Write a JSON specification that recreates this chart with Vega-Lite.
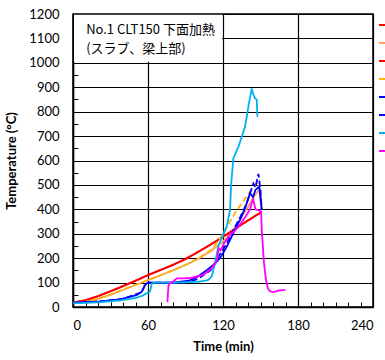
{
  "$schema": "https://vega.github.io/schema/vega-lite/v6.json",
  "width": 300,
  "height": 293,
  "autosize": {"type": "none"},
  "padding": {"left": 73, "top": 14, "right": 12, "bottom": 53},
  "background": "white",
  "config": {
    "view": {"stroke": "black", "strokeWidth": 1.5},
    "font": "Lato",
    "axis": {"labelFont": "Lato", "labelFontSize": 13, "labelColor": "black", "titleFont": "Lato", "titleFontSize": 13, "titleFontWeight": "bold", "titleColor": "black", "domainColor": "black", "domainWidth": 1.5, "tickColor": "black", "labelOverlap": false}
  },
  "datasets": {
    "series": [
      {"s": "1", "t": 0, "T": 18}, {"s": "1", "t": 10, "T": 28}, {"s": "1", "t": 20, "T": 45}, {"s": "1", "t": 30, "T": 65}, {"s": "1", "t": 40, "T": 86}, {"s": "1", "t": 50, "T": 108}, {"s": "1", "t": 60, "T": 131}, {"s": "1", "t": 70, "T": 152}, {"s": "1", "t": 80, "T": 173}, {"s": "1", "t": 90, "T": 197}, {"s": "1", "t": 100, "T": 226}, {"s": "1", "t": 110, "T": 256}, {"s": "1", "t": 120, "T": 288}, {"s": "1", "t": 130, "T": 322}, {"s": "1", "t": 140, "T": 355}, {"s": "1", "t": 151, "T": 390},
      {"s": "2", "t": 0, "T": 18}, {"s": "2", "t": 10, "T": 22}, {"s": "2", "t": 20, "T": 33}, {"s": "2", "t": 30, "T": 50}, {"s": "2", "t": 40, "T": 70}, {"s": "2", "t": 50, "T": 90}, {"s": "2", "t": 60, "T": 110}, {"s": "2", "t": 70, "T": 130}, {"s": "2", "t": 80, "T": 150}, {"s": "2", "t": 90, "T": 172}, {"s": "2", "t": 100, "T": 197}, {"s": "2", "t": 110, "T": 228}, {"s": "2", "t": 120, "T": 268}, {"s": "2", "t": 125, "T": 295}, {"s": "2", "t": 130, "T": 330}, {"s": "2", "t": 135, "T": 370}, {"s": "2", "t": 140, "T": 410}, {"s": "2", "t": 145, "T": 455}, {"s": "2", "t": 149, "T": 480}, {"s": "2", "t": 151, "T": 400},
      {"s": "3", "t": 0, "T": 18}, {"s": "3", "t": 10, "T": 27}, {"s": "3", "t": 20, "T": 44}, {"s": "3", "t": 30, "T": 64}, {"s": "3", "t": 40, "T": 85}, {"s": "3", "t": 50, "T": 107}, {"s": "3", "t": 60, "T": 130}, {"s": "3", "t": 70, "T": 151}, {"s": "3", "t": 80, "T": 172}, {"s": "3", "t": 90, "T": 196}, {"s": "3", "t": 100, "T": 225}, {"s": "3", "t": 110, "T": 255}, {"s": "3", "t": 120, "T": 287}, {"s": "3", "t": 130, "T": 321}, {"s": "3", "t": 140, "T": 354}, {"s": "3", "t": 151, "T": 389},
      {"s": "4", "t": 0, "T": 18}, {"s": "4", "t": 10, "T": 22}, {"s": "4", "t": 20, "T": 34}, {"s": "4", "t": 30, "T": 51}, {"s": "4", "t": 40, "T": 71}, {"s": "4", "t": 50, "T": 91}, {"s": "4", "t": 60, "T": 110}, {"s": "4", "t": 70, "T": 130}, {"s": "4", "t": 80, "T": 150}, {"s": "4", "t": 90, "T": 172}, {"s": "4", "t": 100, "T": 198}, {"s": "4", "t": 110, "T": 232}, {"s": "4", "t": 115, "T": 262}, {"s": "4", "t": 120, "T": 300}, {"s": "4", "t": 125, "T": 345}, {"s": "4", "t": 130, "T": 388}, {"s": "4", "t": 135, "T": 425}, {"s": "4", "t": 140, "T": 460}, {"s": "4", "t": 144, "T": 490}, {"s": "4", "t": 148, "T": 510}, {"s": "4", "t": 150, "T": 470}, {"s": "4", "t": 151, "T": 410},
      {"s": "5", "t": 0, "T": 18}, {"s": "5", "t": 20, "T": 22}, {"s": "5", "t": 37, "T": 31}, {"s": "5", "t": 51, "T": 49}, {"s": "5", "t": 55, "T": 63}, {"s": "5", "t": 57.6, "T": 90}, {"s": "5", "t": 60, "T": 100}, {"s": "5", "t": 80, "T": 100}, {"s": "5", "t": 93, "T": 108}, {"s": "5", "t": 100, "T": 125}, {"s": "5", "t": 107, "T": 151}, {"s": "5", "t": 113, "T": 175}, {"s": "5", "t": 117.6, "T": 200}, {"s": "5", "t": 123, "T": 247}, {"s": "5", "t": 128, "T": 300}, {"s": "5", "t": 133.6, "T": 356}, {"s": "5", "t": 138, "T": 410}, {"s": "5", "t": 141.6, "T": 466}, {"s": "5", "t": 144, "T": 450}, {"s": "5", "t": 146, "T": 480}, {"s": "5", "t": 149, "T": 493}, {"s": "5", "t": 151, "T": 397},
      {"s": "6", "t": 0, "T": 18}, {"s": "6", "t": 20, "T": 22}, {"s": "6", "t": 40, "T": 33}, {"s": "6", "t": 55, "T": 60}, {"s": "6", "t": 58, "T": 95}, {"s": "6", "t": 60, "T": 100}, {"s": "6", "t": 90, "T": 100}, {"s": "6", "t": 100, "T": 115}, {"s": "6", "t": 110, "T": 150}, {"s": "6", "t": 118, "T": 220}, {"s": "6", "t": 123, "T": 260}, {"s": "6", "t": 128.3, "T": 315}, {"s": "6", "t": 134, "T": 370}, {"s": "6", "t": 139, "T": 425}, {"s": "6", "t": 142, "T": 470}, {"s": "6", "t": 144.3, "T": 506}, {"s": "6", "t": 146, "T": 490}, {"s": "6", "t": 148.3, "T": 545}, {"s": "6", "t": 150, "T": 480}, {"s": "6", "t": 151, "T": 397},
      {"s": "7", "t": 0, "T": 15}, {"s": "7", "t": 20, "T": 19}, {"s": "7", "t": 37.6, "T": 27}, {"s": "7", "t": 50, "T": 37}, {"s": "7", "t": 55, "T": 45}, {"s": "7", "t": 61.6, "T": 63}, {"s": "7", "t": 63, "T": 95}, {"s": "7", "t": 65, "T": 100}, {"s": "7", "t": 80, "T": 100}, {"s": "7", "t": 100, "T": 103}, {"s": "7", "t": 108, "T": 110}, {"s": "7", "t": 111, "T": 125}, {"s": "7", "t": 113.6, "T": 179}, {"s": "7", "t": 116.3, "T": 250}, {"s": "7", "t": 120, "T": 295}, {"s": "7", "t": 123, "T": 329}, {"s": "7", "t": 125.6, "T": 397}, {"s": "7", "t": 126.5, "T": 500}, {"s": "7", "t": 128.3, "T": 609}, {"s": "7", "t": 132.3, "T": 656}, {"s": "7", "t": 135, "T": 697}, {"s": "7", "t": 137.6, "T": 738}, {"s": "7", "t": 140.3, "T": 820}, {"s": "7", "t": 143, "T": 895}, {"s": "7", "t": 144, "T": 875}, {"s": "7", "t": 145.6, "T": 854}, {"s": "7", "t": 147, "T": 850}, {"s": "7", "t": 147.5, "T": 779},
      {"s": "8", "t": 75.5, "T": 20}, {"s": "8", "t": 76.3, "T": 83}, {"s": "8", "t": 77, "T": 95}, {"s": "8", "t": 80, "T": 104}, {"s": "8", "t": 83, "T": 117}, {"s": "8", "t": 93, "T": 118}, {"s": "8", "t": 104, "T": 131}, {"s": "8", "t": 111, "T": 158}, {"s": "8", "t": 114, "T": 180}, {"s": "8", "t": 115.5, "T": 200}, {"s": "8", "t": 116.5, "T": 240}, {"s": "8", "t": 118, "T": 232}, {"s": "8", "t": 121, "T": 262}, {"s": "8", "t": 125, "T": 292}, {"s": "8", "t": 130, "T": 315}, {"s": "8", "t": 134, "T": 340}, {"s": "8", "t": 138, "T": 370}, {"s": "8", "t": 141.6, "T": 400}, {"s": "8", "t": 144, "T": 445}, {"s": "8", "t": 146, "T": 400}, {"s": "8", "t": 149, "T": 395}, {"s": "8", "t": 150.5, "T": 390}, {"s": "8", "t": 151, "T": 315}, {"s": "8", "t": 152.8, "T": 179}, {"s": "8", "t": 154.4, "T": 110}, {"s": "8", "t": 156, "T": 75}, {"s": "8", "t": 157.6, "T": 65}, {"s": "8", "t": 160, "T": 61}, {"s": "8", "t": 165, "T": 68}, {"s": "8", "t": 170, "T": 70}
    ]
  },
  "resolve": {"axis": {"x": "independent", "y": "independent"}},
  "layer": [
    {
      "data": {"name": "series"},
      "mark": {"type": "line", "strokeWidth": 1.8, "clip": true},
      "encoding": {
        "x": {
          "field": "t", "type": "quantitative",
          "scale": {"domain": [0, 240], "nice": false, "zero": false},
          "axis": {
            "orient": "bottom",
            "title": "Time (min)",
            "values": [0, 60, 120, 180, 240],
            "format": "d",
            "labelPadding": 12,
            "tickSize": 0,
            "grid": true,
            "gridColor": "black",
            "gridWidth": 1.2,
            "titlePadding": 8
          }
        },
        "y": {
          "field": "T", "type": "quantitative",
          "scale": {"domain": [0, 1200], "nice": false},
          "axis": {
            "orient": "left",
            "title": "Temperature (°C)",
            "values": [0,100,200,300,400,500,600,700,800,900,1000,1100,1200],
            "format": "d",
            "labelPadding": 14,
            "tickSize": 0,
            "grid": true,
            "gridColor": "black",
            "gridWidth": 1.2,
            "titlePadding": 10
          }
        },
        "color": {
          "field": "s", "type": "nominal",
          "scale": {"domain": ["1","2","3","4","5","6","7","8"], "range": ["#FF0000","#F8A060","#FF0000","#FFB400","#0000FF","#0000FF","#00B0F0","#FF00FF"]},
          "legend": {
            "orient": "none", "legendX": 304, "legendY": 4,
            "title": null, "symbolType": "stroke", "symbolSize": 100, "symbolStrokeWidth": 2,
            "labelFontSize": 14, "rowPadding": 4, "labelColor": "black"
          }
        },
        "strokeDash": {
          "field": "s", "type": "nominal",
          "scale": {"domain": ["1","2","3","4","5","6","7","8"], "range": [[1,0],[1,0],[1,0],[6,3],[1,0],[6,3],[1,0],[1,0]]},
          "legend": null
        }
      }
    },
    {
      "data": {"values": [{}]},
      "mark": {"type": "rect", "color": "white"},
      "encoding": {
        "x": {"datum": 0.8, "type": "quantitative", "axis": {"orient": "bottom", "values": [10,20,30,40,50,70,80,90,100,110,130,140,150,160,170,190,200,210,220,230], "labels": false, "domain": false, "grid": false, "tickSize": -5, "tickWidth": 1, "title": null}},
        "x2": {"datum": 119.3},
        "y": {"datum": 1004, "type": "quantitative", "axis": {"orient": "left", "values": [50,150,250,350,450,550,650,750,850,950,1050,1150], "labels": false, "domain": false, "grid": false, "tickSize": -5, "tickWidth": 1, "title": null}},
        "y2": {"datum": 1197}
      }
    },
    {
      "data": {"values": [{}]},
      "mark": {"type": "text", "font": "Noto Sans CJK JP", "fontSize": 13, "align": "left", "baseline": "top", "lineHeight": 19, "color": "black"},
      "encoding": {
        "x": {"datum": 10.5, "type": "quantitative", "axis": null},
        "y": {"datum": 1160, "type": "quantitative", "axis": null},
        "text": {"value": ["No.1 CLT150 下面加熱", "(スラブ、梁上部)"]}
      }
    }
  ]
}
